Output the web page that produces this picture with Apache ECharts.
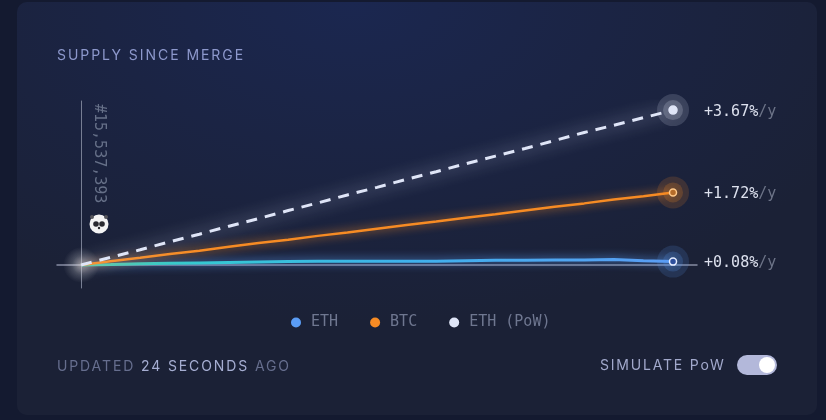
<!DOCTYPE html>
<html>
<head>
<meta charset="utf-8">
<script src="https://cdn.jsdelivr.net/npm/echarts@6/dist/echarts.min.js"></script>
<style>
  html, body { margin: 0; padding: 0; width: 826px; height: 420px; overflow: hidden; background: #141a30; }
  #card {
    position: absolute; left: 17px; top: 2px; width: 800px; height: 413px; border-radius: 10px;
    background: radial-gradient(ellipse 560px 320px at 42% 0%, #1b2750 0%, #1b2444 45%, #1b2136 100%);
  }
  #chart { position: absolute; left: 0; top: 0; width: 826px; height: 420px; }
  .txt { position: absolute; font-family: Inter, sans-serif; font-size: 14px; line-height: 18px; letter-spacing: 1.8px; white-space: nowrap; }
  #title { left: 57px; top: 46px; color: #8d98cc; letter-spacing: 1.95px; }
  #updated { left: 57px; top: 357px; color: #666e8e; letter-spacing: 1.88px; }
  #updated b { font-weight: 400; color: #a6aed2; }
  #simulate { left: 600px; top: 356px; color: #a2a9cc; }
  #toggle { position: absolute; left: 737px; top: 355px; width: 40px; height: 20px; border-radius: 10px; background: #b3b8da; }
  #knob { position: absolute; left: 22px; top: 2px; width: 16px; height: 16px; border-radius: 8px; background: #fff; }
</style>
</head>
<body>
<div id="card"></div>
<div id="chart"></div>
<div class="txt" id="title">SUPPLY SINCE MERGE</div>
<div class="txt" id="updated">UPDATED <b>24 SECONDS</b> AGO</div>
<div class="txt" id="simulate">SIMULATE PoW</div>
<div id="toggle"><div id="knob"></div></div>
<script>
// 横轴：合并后的周数，纵轴：供应变化 %
const weeks = [0, 5, 10, 15, 20, 25, 30, 35, 40, 45, 50, 55, 60, 65, 70, 75, 80, 85, 90, 95, 100]
const ethValues = [0, 0.01, 0.03, 0.04, 0.05, 0.06, 0.07, 0.08, 0.09, 0.09, 0.09, 0.09, 0.09, 0.1, 0.11, 0.11, 0.12, 0.12, 0.13, 0.1, 0.08]
const btcValues = [0, 0.09, 0.17, 0.26, 0.34, 0.43, 0.52, 0.6, 0.69, 0.77, 0.86, 0.95, 1.03, 1.12, 1.2, 1.29, 1.38, 1.46, 1.55, 1.63, 1.72]
const powValues = [0, 0.18, 0.36, 0.55, 0.73, 0.92, 1.1, 1.29, 1.47, 1.66, 1.84, 2.03, 2.21, 2.4, 2.58, 2.76, 2.95, 3.14, 3.31, 3.49, 3.67]
const rateLabels = ['+0.08%', '+1.72%', '+3.67%']
const seriesNames = ['ETH', 'BTC', 'ETH (PoW)']
const seriesColors = ['#5b9df5', '#f68b24', '#dfe5f7']
const mergeBlock = '#15,537,393'

const MONO = '"DejaVu Sans Mono", "Liberation Mono", monospace'

const chart = echarts.init(document.getElementById('chart'), null, { renderer: 'canvas' })

function toPoints(values) {
  return values.map((v, i) => [weeks[i], v])
}

/** 折线 + 末端标签 */
function lineSeries(idx, values, lineColor, extra) {
  return {
    name: seriesNames[idx],
    type: 'line',
    data: toPoints(values),
    showSymbol: false,
    silent: true,
    z: 3 + idx,
    itemStyle: { color: seriesColors[idx] },
    lineStyle: Object.assign({
      width: 2.5,
      color: lineColor,
      shadowColor: seriesColors[idx],
      shadowBlur: 10
    }, extra),
    endLabel: {
      show: true,
      distance: 31,
      offset: [0, 1.5],
      fontFamily: MONO,
      fontSize: 15,
      formatter: '{a|' + rateLabels[idx] + '}{b|/y}',
      rich: {
        a: { color: '#dde1ee', fontFamily: MONO, fontSize: 15 },
        b: { color: '#6d7488', fontFamily: MONO, fontSize: 15 }
      }
    }
  }
}

/** 末端光环 */
function ringSeries(idx, values, size, opacity, fill, borderColor) {
  return {
    name: 'ring' + idx + size,
    type: 'scatter',
    silent: true,
    data: [[weeks[weeks.length - 1], values[values.length - 1]]],
    symbolSize: size,
    z: 6,
    itemStyle: {
      color: fill || seriesColors[idx],
      opacity,
      borderColor: borderColor || 'transparent',
      borderWidth: borderColor ? 1.5 : 0
    }
  }
}

const ethGradient = new echarts.graphic.LinearGradient(0, 0, 1, 0, [
  { offset: 0, color: '#2fd6c4' },
  { offset: 0.55, color: '#3fb2ec' },
  { offset: 1, color: '#5b9df5' }
])

const allValues = [ethValues, btcValues, powValues]

chart.setOption({
  animation: false,
  backgroundColor: 'transparent',
  grid: { left: 57, top: 101, width: 640, height: 187 },
  legend: {
    left: 286,
    top: 310,
    icon: 'circle',
    itemWidth: 10,
    itemHeight: 10,
    itemGap: 32,
    data: seriesNames,
    textStyle: { color: '#6f7790', fontFamily: MONO, fontSize: 15, padding: [0, 0, 0, 5] },
    selectedMode: false
  },
  xAxis: {
    type: 'value',
    min: -4.05,
    max: 104.05,
    axisLine: { onZero: true, lineStyle: { color: '#868ca2', width: 1.5 } },
    axisTick: { show: false },
    axisLabel: { show: false },
    splitLine: { show: false }
  },
  yAxis: {
    type: 'value',
    min: -0.545,
    max: 3.886,
    axisLine: { show: true, onZero: true, lineStyle: { color: '#777e93', width: 1 } },
    axisTick: { show: false },
    axisLabel: { show: false },
    splitLine: { show: false }
  },
  graphic: [
    {
      type: 'text',
      x: 106,
      y: 104,
      rotation: -Math.PI / 2,
      style: { text: mergeBlock, fill: '#667088', font: '15px ' + MONO }
    },
    // 熊猫头像
    { type: 'circle', shape: { cx: 99, cy: 224, r: 9.5 }, style: { fill: '#f4f4f4' } },
    { type: 'circle', shape: { cx: 96, cy: 224, r: 2.8 }, style: { fill: '#2a2a30' } },
    { type: 'circle', shape: { cx: 102, cy: 224, r: 2.8 }, style: { fill: '#2a2a30' } },
    { type: 'circle', shape: { cx: 99, cy: 228, r: 1.2 }, style: { fill: '#2a2a30' } },
    { type: 'circle', shape: { cx: 92, cy: 217, r: 2 }, style: { fill: '#55555c' } },
    { type: 'circle', shape: { cx: 106, cy: 217, r: 2 }, style: { fill: '#55555c' } }
  ],
  series: [
    // 原点光晕
    {
      name: 'origin',
      type: 'scatter',
      silent: true,
      data: [[weeks[0], 0]],
      symbolSize: 36,
      z: 1,
      itemStyle: {
        color: new echarts.graphic.RadialGradient(0.5, 0.5, 0.5, [
          { offset: 0, color: 'rgba(255, 255, 255, 0.6)' },
          { offset: 0.5, color: 'rgba(255, 255, 255, 0.22)' },
          { offset: 1, color: 'rgba(255, 255, 255, 0)' }
        ])
      }
    },
    lineSeries(2, powValues, seriesColors[2], { type: [11, 8], width: 3, shadowBlur: 16 }),
    lineSeries(1, btcValues, seriesColors[1]),
    lineSeries(0, ethValues, ethGradient, { width: 3 }),
    ...allValues.flatMap((values, idx) => [
      ringSeries(idx, values, 32, 0.16),
      ringSeries(idx, values, 20, 0.2)
    ]),
    ringSeries(0, ethValues, 7, 1, '#2d4f9c', '#e4ecff'),
    ringSeries(1, btcValues, 7, 1, '#b56c2a', '#ffc98a'),
    ringSeries(2, powValues, 8, 1, '#dfe5f7', '#dfe5f7')
  ]
})
</script>
</body>
</html>
